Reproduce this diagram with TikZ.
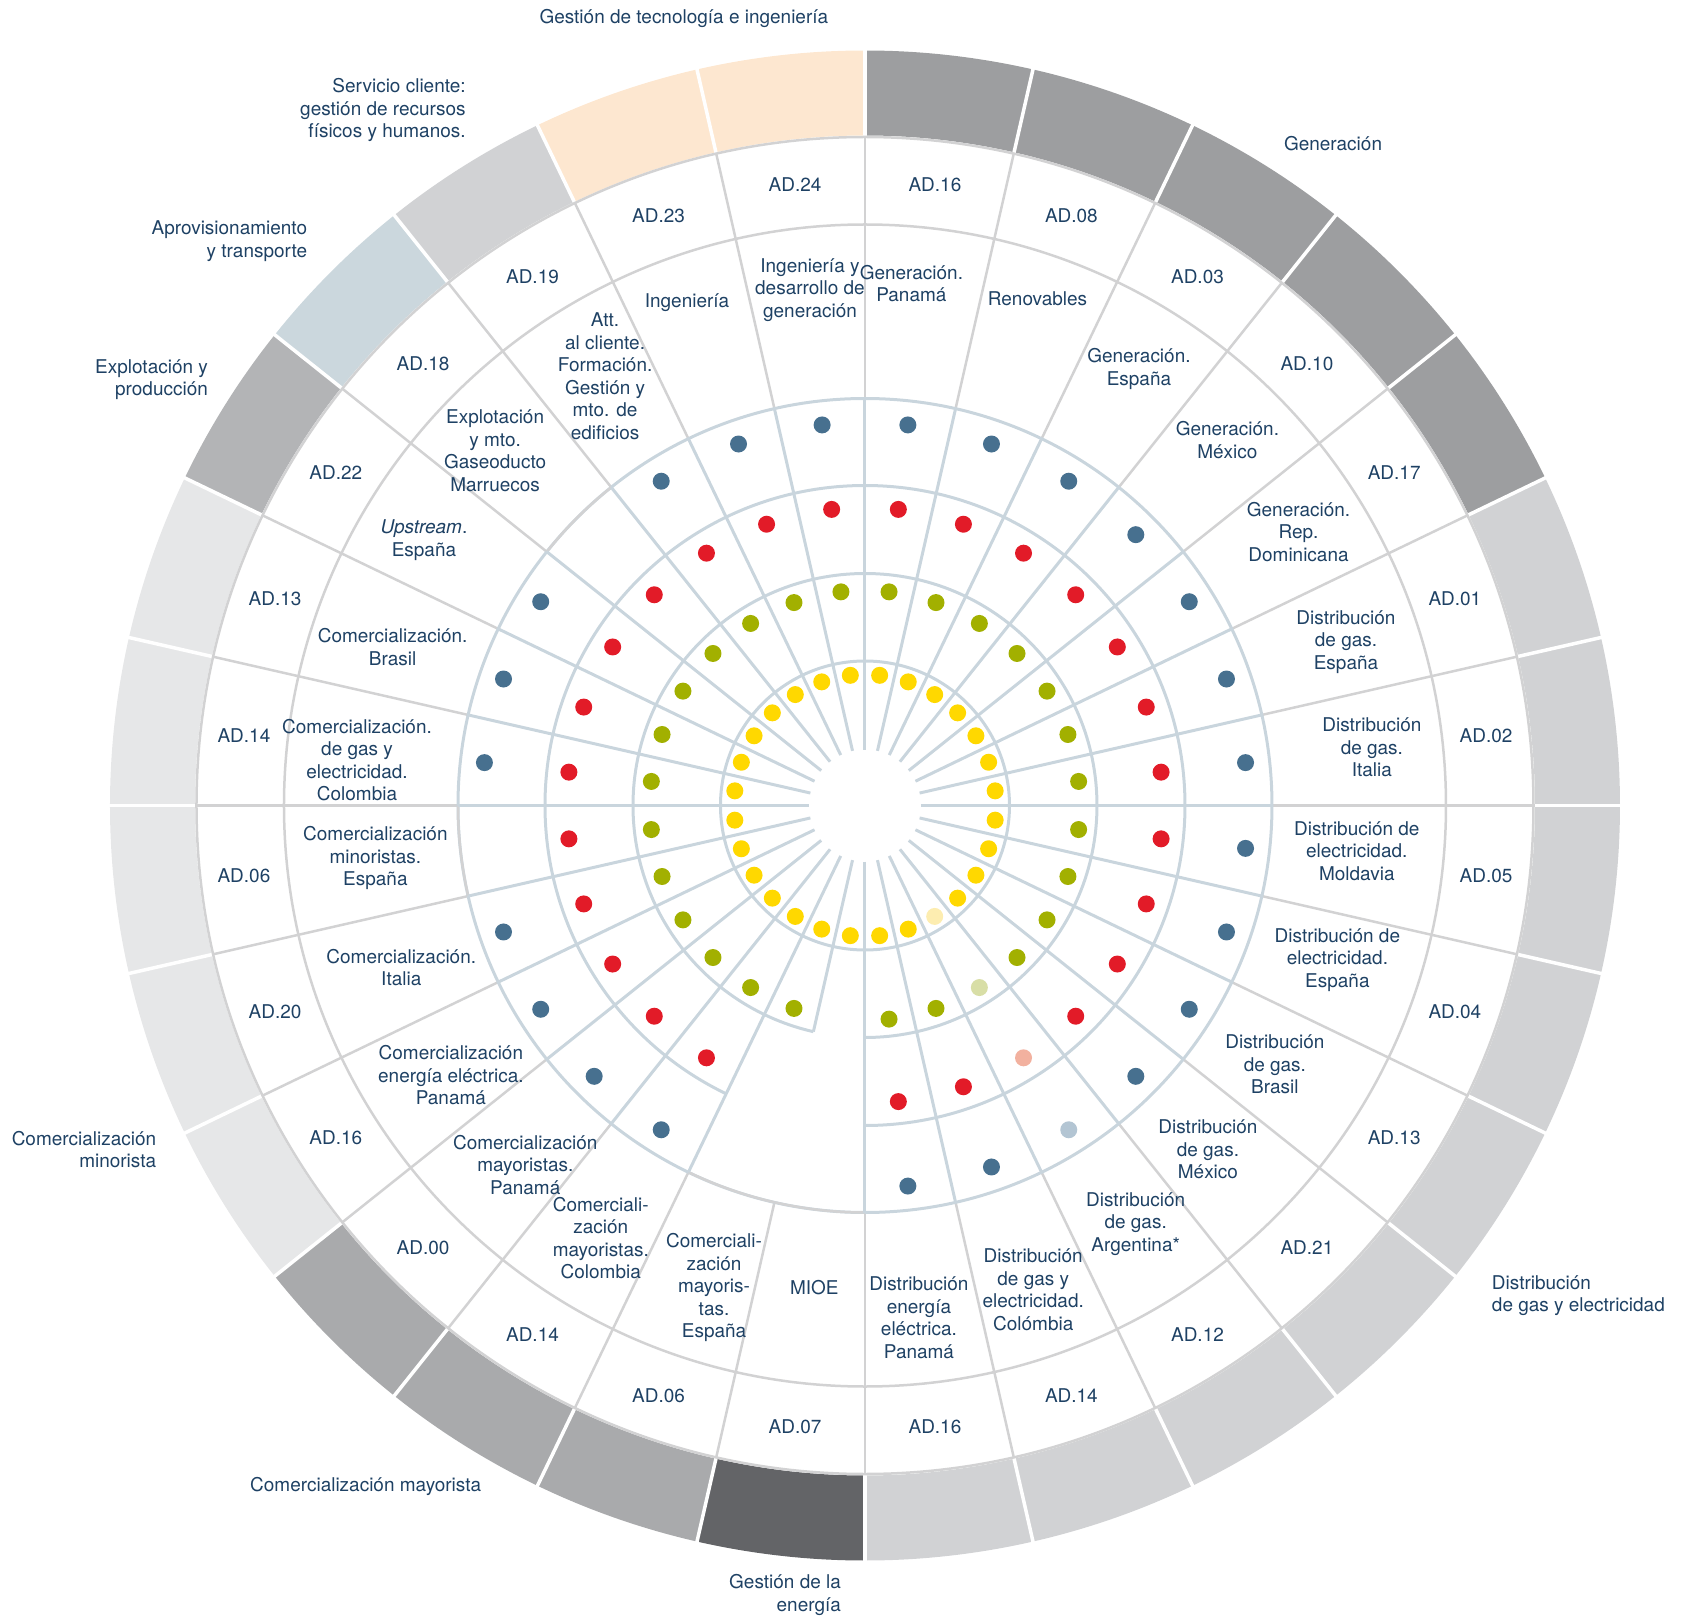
\documentclass[tikz,border=0pt]{standalone}
\usepackage{fontspec}
\setmainfont{TeX Gyre Heros}
\usepackage{tikz}

\definecolor{txtblue}{RGB}{30,65,100}
\definecolor{gridblue}{RGB}{201,213,221}
\definecolor{ringgray}{RGB}{210,210,211}
\definecolor{gen}{RGB}{157,158,160}
\definecolor{dist}{RGB}{209,210,212}
\definecolor{ener}{RGB}{99,100,103}
\definecolor{mayo}{RGB}{169,170,172}
\definecolor{mino}{RGB}{230,231,232}
\definecolor{expl}{RGB}{179,180,182}
\definecolor{apro}{RGB}{203,215,221}
\definecolor{tecn}{RGB}{253,231,208}
\definecolor{dotY}{RGB}{255,216,0}
\definecolor{dotG}{RGB}{162,176,0}
\definecolor{dotR}{RGB}{226,27,40}
\definecolor{dotB}{RGB}{71,112,143}
\definecolor{paleY}{RGB}{253,237,176}
\definecolor{paleG}{RGB}{216,222,166}
\definecolor{paleR}{RGB}{242,177,159}
\definecolor{paleB}{RGB}{179,197,211}

\begin{document}
\begin{tikzpicture}[
    font=\fontsize{10.8}{12.8}\selectfont, text=txtblue,
    lbl/.style={align=center, inner sep=0pt},
    cat/.style={inner sep=0pt},
    grid/.style={draw=gridblue, line width=0.06cm},
    ring/.style={draw=ringgray, line width=0.05cm}]
\useasboundingbox (-17.30,-16.27) rectangle (16.52,16.11);

% outer ring
\foreach \k/\c in {0/gen,1/gen,2/gen,3/gen,4/gen,5/dist,6/dist,7/dist,8/dist,9/dist,
    10/dist,11/dist,12/dist,13/dist,14/ener,15/mayo,16/mayo,17/mayo,18/mino,19/mino,
    20/mino,21/mino,22/mino,23/expl,24/apro,25/dist,26/tecn,27/tecn}{
  \pgfmathsetmacro{\a}{90-\k*360/28}
  \pgfmathsetmacro{\b}{90-(\k+1)*360/28}
  \fill[\c] (\a:13.40) arc[start angle=\a, end angle=\b, radius=13.40]
    -- (\b:15.10) arc[start angle=\b, end angle=\a, radius=15.10] -- cycle;
}
\foreach \k in {0,...,27}
  \draw[white, line width=0.07cm] ({90-\k*360/28}:13.38) -- ({90-\k*360/28}:15.2);

% label ring
\draw[ring] (0,0) circle (13.37);
\draw[ring] (0,0) circle (11.62);
\foreach \k in {0,...,27}
  \draw[ring] ({90-\k*360/28}:8.14) -- ({90-\k*360/28}:13.37);

% inner grid
\draw[grid] (0,0) circle (2.89);
\draw[grid] (-90:4.64) arc[start angle=-90, end angle=257.142857, radius=4.64];
\draw[grid] (-90:6.40) arc[start angle=-90, end angle=244.285714, radius=6.40];
\draw[grid] (0,0) circle (8.14);
\foreach \k in {14,15,20,24}{
  \pgfmathsetmacro{\a}{90-\k*360/28}
  \pgfmathsetmacro{\b}{90-(\k+1)*360/28}
  \draw[ring] (\a:8.14) arc[start angle=\a, end angle=\b, radius=8.14];
}
\foreach \k in {0,...,27}{
  \pgfmathsetmacro{\e}{ifthenelse(\k==15,4.64,8.14)}
  \draw[grid] ({90-\k*360/28}:1.12) -- ({90-\k*360/28}:\e);
}

% dots
\foreach \k/\cy/\cg/\cr/\cb in {0/dotY/dotG/dotR/dotB,1/dotY/dotG/dotR/dotB,
    2/dotY/dotG/dotR/dotB,3/dotY/dotG/dotR/dotB,4/dotY/dotG/dotR/dotB,
    5/dotY/dotG/dotR/dotB,6/dotY/dotG/dotR/dotB,7/dotY/dotG/dotR/dotB,
    8/dotY/dotG/dotR/dotB,9/dotY/dotG/dotR/dotB,10/dotY/dotG/dotR/dotB,
    11/paleY/paleG/paleR/paleB,12/dotY/dotG/dotR/dotB,13/dotY/dotG/dotR/dotB,
    14/dotY/none/none/none,15/dotY/dotG/none/none,16/dotY/dotG/dotR/dotB,
    17/dotY/dotG/dotR/dotB,18/dotY/dotG/dotR/dotB,19/dotY/dotG/dotR/dotB,
    20/dotY/dotG/dotR/none,21/dotY/dotG/dotR/dotB,22/dotY/dotG/dotR/dotB,
    23/dotY/dotG/dotR/dotB,24/dotY/dotG/dotR/none,25/dotY/dotG/dotR/dotB,
    26/dotY/dotG/dotR/dotB,27/dotY/dotG/dotR/dotB}{
  \pgfmathsetmacro{\m}{90-(\k+0.5)*360/28}
  \path[fill=\cy] (\m:2.62) circle (0.17);
  \path[fill=\cg] (\m:4.30) circle (0.17);
  \path[fill=\cr] (\m:5.96) circle (0.17);
  \path[fill=\cb] (\m:7.66) circle (0.17);
}

% AD codes
\foreach \k/\t in {0/16,1/08,2/03,3/10,4/17,5/01,6/02,7/05,8/04,9/13,10/21,11/12,
    12/14,13/16,14/07,15/06,16/14,17/00,18/16,19/20,20/06,21/14,22/13,23/22,
    24/18,25/19,26/23,27/24}
  \node[lbl] (ad\k) at ({90-(\k+0.5)*360/28}:12.5) {AD.\t};

% activity labels
\node[lbl] (l00) at (0.928,10.437) {Generación.\\Panamá};
\node[lbl] (l01) at (3.451,10.135) {Renovables};
\node[lbl] (l02) at (5.479,8.733) {Generación.\\España};
\node[lbl] (l03) at (7.248,7.310) {Generación.\\México};
\node[lbl] (l04) at (8.671,5.476) {Generación.\\Rep.\\Dominicana};
\node[lbl] (l05) at (9.620,3.276) {Distribución\\de gas.\\España};
\node[lbl] (l06) at (10.138,1.163) {Distribución\\de gas.\\Italia};
\node[lbl] (l07) at (9.836,-0.908) {Distribución de\\electricidad.\\Moldavia};
\node[lbl] (l08) at (9.448,-3.086) {Distribución de\\electricidad.\\España};
\node[lbl] (l09) at (8.197,-5.179) {Distribución\\de gas.\\Brasil};
\node[lbl] (l10) at (6.859,-6.883) {Distribución\\de gas.\\México};
\node[lbl] (l11) at (5.414,-8.371) {Distribución\\de gas.\\Argentina*};
\node[lbl] (l12) at (3.365,-9.687) {Distribución\\de gas y\\electricidad.\\Colómbia};
\node[lbl] (l13) at (1.079,-10.247) {Distribución\\energía\\eléctrica.\\Panamá};
\node[lbl] (l14) at (-1.013,-9.643) {MIOE};
\node[lbl] (l15) at (-3.019,-9.643) {Comerciali-\\zación\\mayoris-\\tas.\\España};
\node[lbl] (l16) at (-5.284,-8.651) {Comerciali-\\zación\\mayoristas.\\Colombia};
\node[lbl] (l17) at (-6.794,-7.185) {Comercialización\\mayoristas.\\Panamá};
\node[lbl] (l18) at (-8.282,-5.394) {Comercialización\\energía eléctrica.\\Panamá};
\node[lbl] (l19) at (-9.274,-3.237) {Comercialización.\\Italia};
\node[lbl] (l20) at (-9.792,-1.059) {Comercialización\\minoristas.\\España};
\node[lbl] (l21) at (-10.159,0.904) {Comercialización.\\de gas y\\electricidad.\\Colombia};
\node[lbl] (l22) at (-9.447,3.169) {Comercialización.\\Brasil};
\node[lbl] (l23) at (-8.821,5.304) {\textit{Upstream}.\\España};
\node[lbl] (l24) at (-7.398,7.094) {Explotación\\y mto.\\Gaseoducto\\Marruecos};
\node[lbl] (l25) at (-5.198,8.582) {Att.\\al cliente.\\Formación.\\Gestión y\\mto. de\\edificios};
\node[lbl] (l26) at (-3.559,10.049) {Ingeniería};
\node[lbl] (l27) at (-1.100,10.308) {Ingeniería y\\desarrollo de\\generación};

% business areas
\node[cat] (tecnologia) at (-3.623,15.743) {Gestión de tecnología e ingeniería};
\node[cat, anchor=east, align=right] (servicio) at (-7.98,13.91)
  {Servicio cliente:\\gestión de recursos\\físicos y humanos.};
\node[cat, anchor=east, align=right] (aprov) at (-11.151,11.289)
  {Aprovisionamiento\\y transporte};
\node[cat, anchor=east, align=right] (explot) at (-13.135,8.518)
  {Explotación y\\producción};
\node[cat, anchor=east, align=right] (minorista) at (-14.17,-6.883)
  {Comercialización\\minorista};
\node[cat] (mayorista) at (-9.986,-13.612) {Comercialización mayorista};
\node[cat, anchor=east, align=right] (energia) at (-0.474,-15.791)
  {Gestión de la\\energía};
\node[cat, anchor=west, align=left] (distrib) at (12.532,-9.806)
  {Distribución\\de gas y electricidad};
\node[cat] (generacion) at (9.361,13.241) {Generación};
\end{tikzpicture}
\end{document}
